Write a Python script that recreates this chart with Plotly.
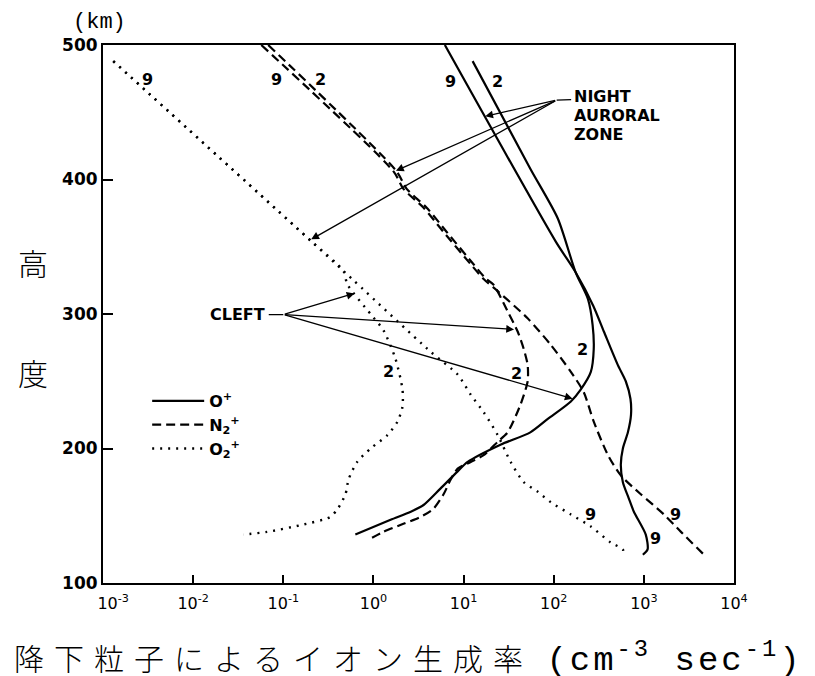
import plotly.graph_objects as go

# Ion production rate by precipitating particles (cm^-3 s^-1) versus altitude (km)
# "9": night auroral zone, "2": cleft

# O+ (solid)
alt_o_night = [500, 354, 331, 306, 287, 262, 250, 237, 225, 212, 200, 188, 175, 163, 153, 136, 125, 121]
rate_o_night = [6.2, 105, 175, 275, 360, 515, 630, 710, 720, 665, 585, 555, 585, 680, 775, 1050, 1100, 975]
alt_o_cleft = [488, 408, 371, 331, 311, 292, 274, 257, 244, 235, 222, 212, 203, 190, 183, 170, 158, 153, 147, 136]
rate_o_cleft = [12.6, 55, 111, 175, 240, 270, 278, 258, 200, 155, 86, 55, 26, 11.1, 8.6, 5.5, 3.6, 2.6, 1.55, 0.63]

# N2+ (dashed)
alt_n2_night = [500, 406, 393, 379, 361, 337, 326, 317, 297, 277, 257, 242, 220, 195, 180, 166, 151, 138, 121]
rate_n2_night = [0.057, 1.67, 2.15, 3.6, 6.0, 12.0, 16.7, 23.9, 51, 93, 155, 215, 278, 400, 555, 925, 1670, 2580, 4650]
alt_n2_cleft = [500, 406, 393, 379, 361, 337, 326, 322, 302, 287, 274, 262, 250, 233, 212, 205, 195, 190, 185,
                177, 166, 155, 149, 144, 138, 133]
rate_n2_cleft = [0.068, 1.81, 2.34, 3.9, 6.5, 12.9, 17.8, 21.4, 30.8, 39.8, 46.5, 51.4, 51.4, 43, 30.8, 23.9, 16.7,
                 12.0, 8.6, 7.2, 6.0, 4.6, 3.3, 2.15, 1.29, 0.93]

# O2+ (dotted)
alt_o2_night = [488, 354, 332, 272, 255, 240, 227, 210, 190, 175, 168, 160, 151, 142, 130, 125, 121]
rate_o2_night = [0.0013, 0.205, 0.465, 4.3, 8.6, 12.0, 16.7, 23.9, 33.3, 46.5, 66, 93, 155, 258, 430, 585, 585]
alt_o2_cleft = [488, 354, 332, 322, 300, 288, 267, 244, 231, 220, 210, 200, 190, 177, 166, 155, 149, 143, 138, 136]
rate_o2_cleft = [0.0013, 0.205, 0.465, 0.514, 0.93, 1.29, 1.75, 2.1, 2.1, 1.85, 1.43, 0.93, 0.66, 0.53, 0.49,
                 0.40, 0.33, 0.155, 0.066, 0.036]

x_tick_vals = [1e-3, 1e-2, 1e-1, 1e0, 1e1, 1e2, 1e3, 1e4]
x_tick_text = ["&nbsp;&nbsp;&nbsp;&nbsp;10<sup>-3</sup>", "10<sup>-2</sup>", "10<sup>-1</sup>", "10<sup>0</sup>",
               "10<sup>1</sup>", "10<sup>2</sup>", "10<sup>3</sup>", "10<sup>4</sup>"]
y_tick_vals = [100, 200, 300, 400, 500]

species = ["O<sup>+</sup>", "N<sub>2</sub><sup>+</sup>", "O<sub>2</sub><sup>+</sup>"]

SOLID = dict(color="black", width=2.2, dash="solid")
DASHED = dict(color="black", width=2.2, dash="9px,5px")
DOTTED = dict(color="black", width=2.4, dash="2px,6px")

fig = go.Figure()
series = [
    (rate_o_night, alt_o_night, SOLID, species[0], True),
    (rate_o_cleft, alt_o_cleft, SOLID, species[0], False),
    (rate_n2_night, alt_n2_night, DASHED, species[1], True),
    (rate_n2_cleft, alt_n2_cleft, DASHED, species[1], False),
    (rate_o2_night, alt_o2_night, DOTTED, species[2], True),
    (rate_o2_cleft, alt_o2_cleft, DOTTED, species[2], False),
]
for xs, ys, style, name, show in series:
    fig.add_trace(go.Scatter(
        x=xs, y=ys, mode="lines", name=name, legendgroup=name, showlegend=show,
        line=dict(shape="spline", smoothing=0.7, **style), hoverinfo="skip",
    ))

LABEL_FONT = dict(family="DejaVu Sans", size=16, color="black", weight="bold")

# curve identifiers (log10 x, altitude)
curve_labels = [
    ("9", -2.511, 474.7), ("9", -1.078, 474.7), ("2", -0.589, 474.7),
    ("9", 0.856, 473.2), ("2", 1.378, 473.2),
    ("2", 2.322, 273.6), ("2", 1.589, 255.7), ("2", 0.167, 257.2),
    ("9", 2.411, 150.6), ("9", 3.133, 132.8), ("9", 3.356, 150.6),
]
annotations = []
for txt, lx, ly in curve_labels:
    annotations.append(dict(x=lx, y=ly, xref="x", yref="y", text=txt, showarrow=False,
                            font=LABEL_FONT))

# region labels with pointer arrows
for txt, ly in [("NIGHT", 462.0), ("AURORAL", 447.5), ("ZONE", 433.7)]:
    annotations.append(dict(x=2.2, y=ly, xref="x", yref="y", text=txt, showarrow=False,
                            xanchor="left", yanchor="middle", font=LABEL_FONT))
annotations.append(dict(x=-1.178, y=299.6, xref="x", yref="y", text="CLEFT", showarrow=False,
                        xanchor="right", yanchor="middle", font=LABEL_FONT))

ARROW = dict(xref="x", yref="y", axref="x", ayref="y", text="", showarrow=True,
             arrowcolor="black", arrowwidth=1.3, arrowsize=1.2, arrowhead=2, standoff=0)
LEADER = dict(ARROW, arrowhead=0)

night_root = (2.033, 459.0)
annotations.append(dict(LEADER, x=night_root[0], y=night_root[1], ax=2.21, ay=459.5))
for tip in [(1.24, 447.0), (0.25, 406.5), (-0.69, 355.5)]:
    annotations.append(dict(ARROW, x=tip[0], y=tip[1], ax=night_root[0], ay=night_root[1]))

cleft_root = (-1.0, 299.6)
annotations.append(dict(LEADER, x=cleft_root[0], y=cleft_root[1], ax=-1.178, ay=299.6))
for tip in [(-0.21, 315.3), (1.56, 288.5), (2.21, 237.0)]:
    annotations.append(dict(ARROW, x=tip[0], y=tip[1], ax=cleft_root[0], ay=cleft_root[1]))

# axis titles
annotations.append(dict(x=-0.006, y=1.041, xref="paper", yref="paper", text="(km)", showarrow=False,
                        xanchor="center", yanchor="middle",
                        font=dict(family="Liberation Mono", size=22, color="black")))
for ch, py in [("高", 0.597), ("度", 0.392)]:
    annotations.append(dict(x=-0.111, y=py, xref="paper", yref="paper", text=ch, showarrow=False,
                            xanchor="center", yanchor="middle",
                            font=dict(family="Noto Sans CJK JP", size=30, color="black", weight=300)))
x_title = ('<span style="letter-spacing:10px">降下粒子によるイオン生成率</span>&nbsp;&nbsp;'
           '<span style="font-family:Liberation Mono;font-size:34px;letter-spacing:3px">'
           '(cm<sup>-3</sup> sec<sup>-1</sup>)</span>')
annotations.append(dict(x=-0.144, y=-0.139, xref="paper", yref="paper", text=x_title, showarrow=False,
                        xanchor="left", yanchor="middle",
                        font=dict(family="Noto Sans CJK JP", size=30, color="black", weight=300)))

fig.update_layout(
    width=815, height=676,
    margin=dict(l=103, r=81, t=45, b=93),
    plot_bgcolor="white", paper_bgcolor="white",
    annotations=annotations,
    showlegend=True,
    legend=dict(x=0.07, y=0.37, xanchor="left", yanchor="top", bgcolor="rgba(0,0,0,0)",
                font=dict(family="DejaVu Sans", size=16, color="black", weight="bold"),
                tracegroupgap=0, itemwidth=52),
    xaxis=dict(type="log", range=[-3, 4], tickvals=x_tick_vals, ticktext=x_tick_text,
               showgrid=False, zeroline=False, showline=True, linecolor="black", linewidth=2,
               mirror=True, ticks="inside", ticklen=8, tickwidth=1.5, tickcolor="black",
               ticklabelstandoff=5,
               tickfont=dict(family="DejaVu Sans", size=16, color="black")),
    yaxis=dict(range=[100, 500], tickvals=y_tick_vals, showgrid=False, zeroline=False,
               showline=True, linecolor="black", linewidth=2, mirror=True, ticks="inside",
               ticklen=10, tickwidth=1.5, tickcolor="black",
               tickfont=dict(family="DejaVu Sans", size=17, color="black", weight="bold")),
)

fig.write_html("out.html")
